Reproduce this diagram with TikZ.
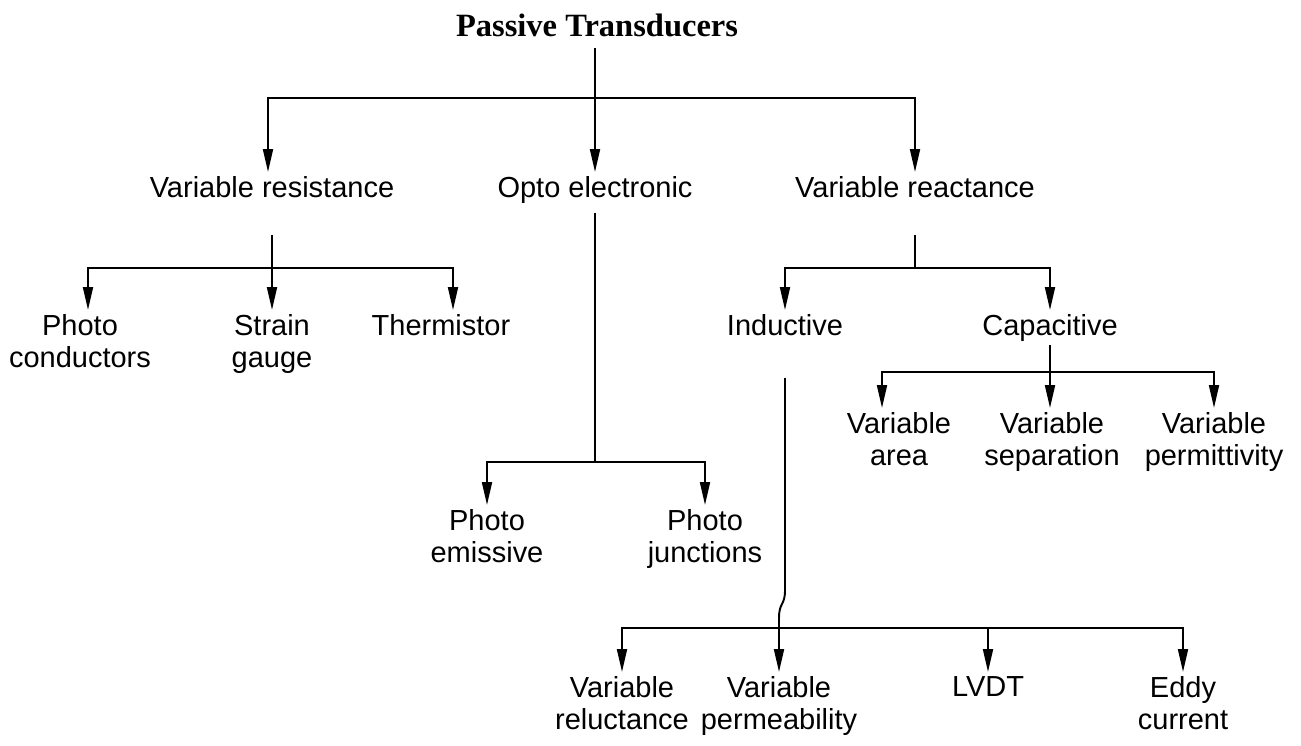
\documentclass[tikz,border=0pt]{standalone}
\usepackage{fontspec}
\setmainfont{Liberation Serif}
\setsansfont{Liberation Sans}
\usetikzlibrary{arrows.meta}

\begin{document}
\begin{tikzpicture}[
  x=0.02cm, y=-0.02cm,
  line width=1.1pt,
  every node/.style={font=\sffamily\fontsize{16.5}{18.2}\selectfont, align=center, anchor=north, inner sep=2pt},
  hd/.style={font=\rmfamily\bfseries\fontsize{18.5}{20}\selectfont, anchor=center},
  arr/.style={-{Triangle[length=0.46cm,width=0.2cm]}}
]
  \useasboundingbox (0,0) rectangle (1301,746);

  \node[hd] (title) at (597,25) {Passive Transducers};

  \node (vres) at (272,172) {Variable resistance};
  \node (opto) at (595,172) {Opto electronic};
  \node (vreac) at (915,172) {Variable reactance};

  \coordinate (j0) at (opto |- 0,98);
  \draw (j0 |- 0,48) -- (j0);
  \draw[arr] (j0) -| ([xshift=-0.08cm]vres.north);
  \draw[arr] (j0) -- (opto.north);
  \draw[arr] (j0) -| (vreac.north);

  % resistance branch
  \node (phc) at (80,310) {Photo\\conductors};
  \node (strain) at (272,310) {Strain\\gauge};
  \node (therm) at (441,310) {Thermistor};
  \coordinate (j1) at (vres |- 0,268);
  \draw (vres |- 0,235) -- (j1);
  \draw[arr] (j1) -| ([xshift=0.16cm]phc.north);
  \draw[arr] (j1) -- (strain.north);
  \draw[arr] (j1) -| ([xshift=0.24cm]therm.north);

  % opto branch
  \node (phe) at (487,505) {Photo\\emissive};
  \node (phj) at (705,505) {Photo\\junctions};
  \coordinate (j2) at (opto |- 0,462);
  \draw (opto |- 0,213) -- (j2);
  \draw[arr] (j2) -| (phe.north);
  \draw[arr] (j2) -| (phj.north);

  % reactance branch
  \node (ind) at (785,310) {Inductive};
  \node (cap) at (1050,310) {Capacitive};
  \coordinate (j3) at (vreac |- 0,268);
  \draw (vreac |- 0,235) -- (j3);
  \draw[arr] (j3) -| (ind.north);
  \draw[arr] (j3) -| (cap.north);

  % capacitive
  \node (varea) at (899,408) {Variable\\area};
  \node (vsep) at (1052,408) {Variable\\separation};
  \node (vperm) at (1214,408) {Variable\\permittivity};
  \coordinate (j4) at (cap |- 0,372);
  \draw (cap |- 0,345) -- (j4);
  \draw[arr] (j4) -| ([xshift=-0.34cm]varea.north);
  \draw[arr] (j4) -- (j4 |- vsep.north);
  \draw[arr] (j4) -| (vperm.north);

  % inductive
  \node (vrel) at (622,672) {Variable\\reluctance};
  \node (vpmb) at (779,672) {Variable\\permeability};
  \node (lvdt) at (988,672) {LVDT};
  \node (eddy) at (1183,672) {Eddy\\current};
  \coordinate (j5) at (vpmb |- 0,628);
  \draw (ind |- 0,378) -- (ind |- 0,590)
    .. controls (ind |- 0,606) and (vpmb |- 0,602) .. (vpmb |- 0,618) -- (j5);
  \draw[arr] (j5) -| (vrel.north);
  \draw[arr] (j5) -- (vpmb.north);
  \draw[arr] (j5) -| (lvdt.north);
  \draw[arr] (j5) -| (eddy.north);
\end{tikzpicture}
\end{document}
